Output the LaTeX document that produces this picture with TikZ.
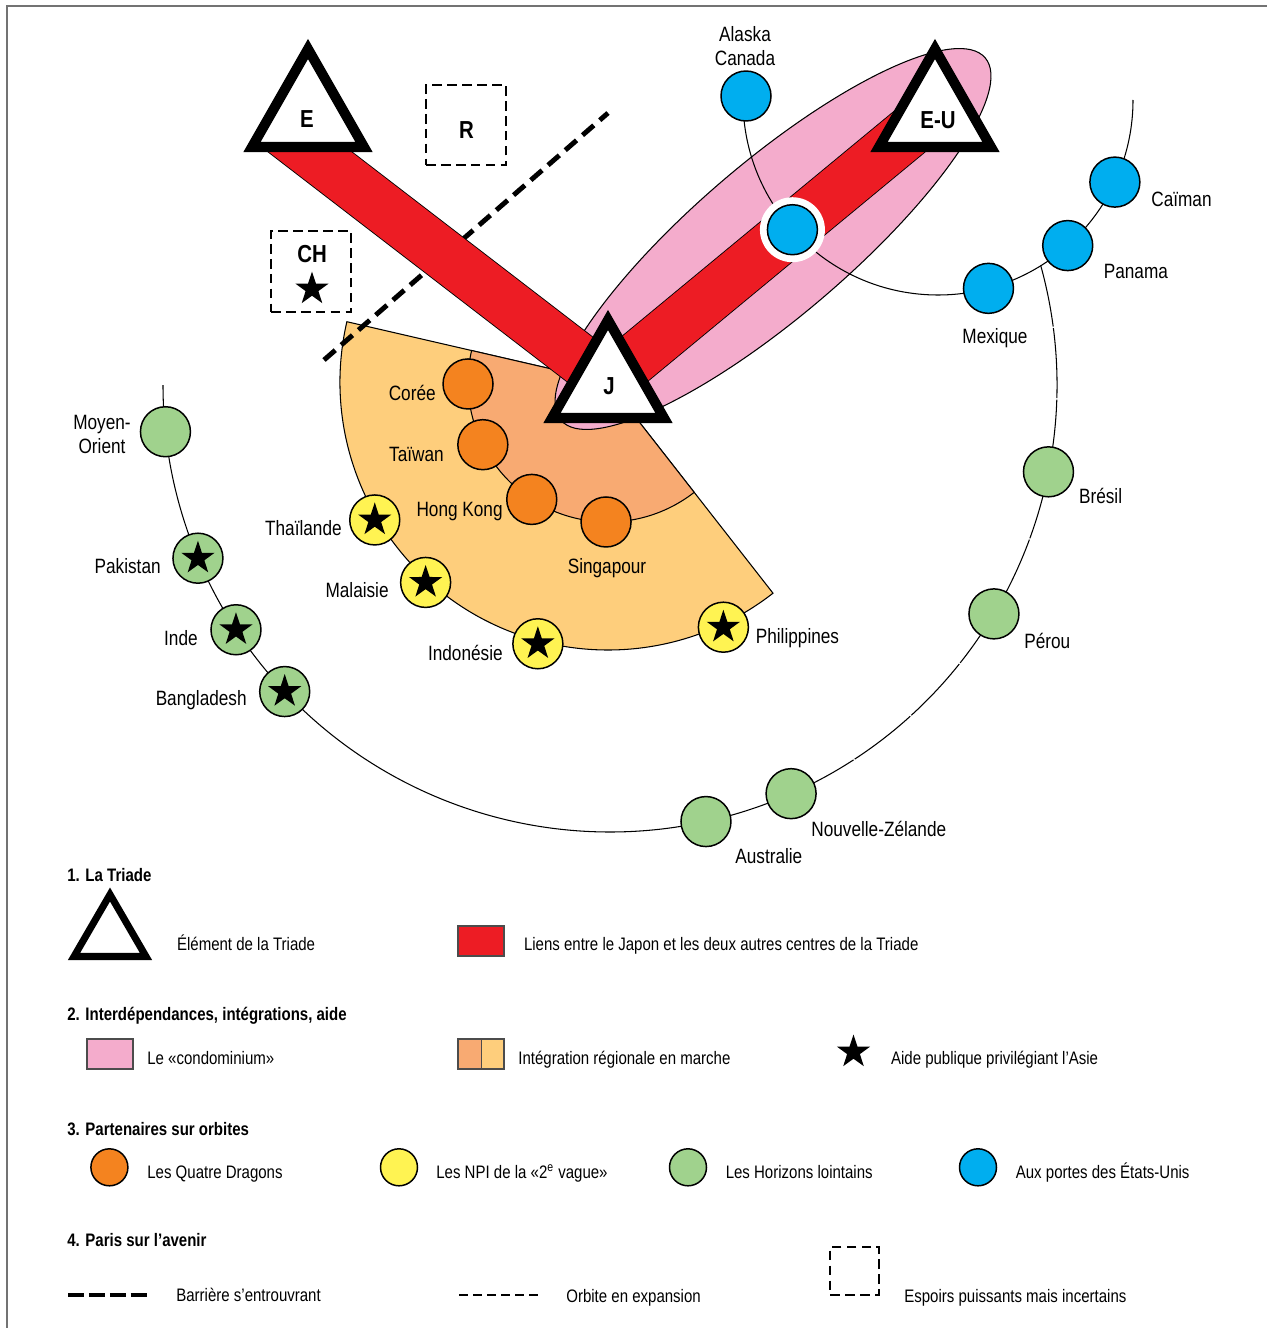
\documentclass[tikz,border=0pt]{standalone}
\usepackage{fontspec}
\setmainfont{Liberation Sans}[FakeStretch=0.83]
\usetikzlibrary{shapes.geometric,positioning}

\definecolor{rouge}{HTML}{ED1C24}
\definecolor{rose}{HTML}{F4ACCC}
\definecolor{saumon}{HTML}{F8AA72}
\definecolor{abricot}{HTML}{FECE7C}
\definecolor{dragon}{HTML}{F4831F}
\definecolor{jaune}{HTML}{FFF352}
\definecolor{vert}{HTML}{A0D28D}
\definecolor{bleu}{HTML}{00AEEF}

\begin{document}
\begin{tikzpicture}[x=0.02cm, y=-0.02cm,
  triade/.style={draw=black, fill=white, line width=5.7pt, line join=miter},
  pays/.style={circle, draw=black, line width=0.85pt, minimum size=1cm, inner sep=0pt},
  quatre/.style={pays, fill=dragon},
  npi/.style={pays, fill=jaune},
  loin/.style={pays, fill=vert},
  porte/.style={pays, fill=bleu},
  etoile/.style={star, star points=5, star point ratio=2.6, fill=black, inner sep=0pt, minimum size=0.7cm},
  orbite/.style={black, line width=0.6pt},
  expansion/.style={orbite, dash pattern=on 40pt off 0.8pt},
  espoir/.style={draw=black, line width=1.4pt, dash pattern=on 5.5pt off 3pt, inner sep=0pt},
  barriere/.style={black, line width=2.8pt, dash pattern=on 8.5pt off 4.5pt},
  lien/.style={rouge, line width=28.6pt},
  lienbord/.style={black, line width=29.6pt},
  lbl/.style={inner sep=0pt, font=\fontsize{11.8}{13.3}\selectfont},
  tlbl/.style={inner sep=0pt, font=\bfseries\fontsize{14}{16}\selectfont},
  leg/.style={inner sep=0pt, anchor=base west, font=\fontsize{10.3}{12}\selectfont},
  titre/.style={leg, font=\bfseries\fontsize{10.3}{12}\selectfont},
  carre/.style={draw=black!70, line width=0.6pt, minimum width=0.92cm, minimum height=0.6cm, inner sep=0pt}
]
  \useasboundingbox (0,0) rectangle (1267,1328);

  % Frame
  \draw[black!55, line width=0.8pt] (7,1328) -- (7,6) -- (1267,6);

  % Centres of the orbits
  \coordinate (jc) at (608,382);
  \coordinate (oc) at (610,385);
  \coordinate (uc) at (938,100);

  % Regional integration (sector around Japan)
  \draw[orbite, fill=abricot] (jc) -- ++(193:268) arc[start angle=193, end angle=52, radius=268] -- cycle;
  \draw[orbite, fill=saumon] (jc) -- ++(193:140) arc[start angle=193, end angle=52, radius=140] -- cycle;

  % Barrier
  \coordinate (b1) at (324,360);
  \coordinate (b2) at (608,113);
  \draw[barriere] (b1) -- (b2);

  % Condominium
  \draw[orbite, fill=rose, rotate around={40.5:(773,239)}] (773,239) ellipse[x radius=279, y radius=77];

  % Links to Japan
  \coordinate (e0) at (275,125);
  \coordinate (u0) at (920,123);
  \coordinate (j0) at (608,381);
  \draw[lienbord] (e0) -- (j0);
  \draw[lien] (e0) -- (j0);
  \draw[lienbord] (u0) -- (j0);
  \draw[lien] (u0) -- (j0);

  % Triad
  \draw[triade] (252,147) -- (364,147) -- (308,49) -- cycle;
  \draw[triade] (879,147) -- (991,147) -- (935,49) -- cycle;
  \draw[triade] (552,418) -- (664,418) -- (608,320) -- cycle;
  \node[tlbl] (eur) at (307,119) {E};
  \node[tlbl] (usa) at (938,120) {E-U};
  \node[tlbl] (jap) at (609,386) {J};

  % Hopes
  \node[espoir, minimum size=1.6cm] (rus) at (466,125) {};
  \node[tlbl] (rusl) at (466.5,130.5) {R};
  \node[espoir, minimum width=1.6cm, minimum height=1.62cm] (chn) at (311,271.5) {};
  \node[tlbl] (chnl) at (312,254.5) {CH};
  \node[etoile] (chns) at (312,289) {};

  % Orbits
  \draw[orbite] (uc) ++(180:195) arc[start angle=180, end angle=0, radius=195];
  \draw[orbite] (oc) ++(180:447) arc[start angle=180, end angle=66, radius=447];
  \draw[expansion] (oc) ++(66:447) arc[start angle=66, end angle=-15.5, radius=447];

  % Four dragons
  \path (jc) ++(179.2:140) node[quatre] (kor) {};
  \path (jc) ++(153.4:140) node[quatre] (tai) {};
  \path (jc) ++(123:140) node[quatre] (hk) {};
  \path (jc) ++(90.8:140) node[quatre] (sgp) {};

  % Second wave
  \path (jc) ++(149.4:271) node[npi] (tha) {};
  \path (jc) ++(132.3:271) node[npi] (mal) {};
  \path (jc) ++(105:271) node[npi] (ido) {};
  \path (jc) ++(64.8:271) node[npi] (phi) {};

  % Far horizons
  \path (oc) ++(174:447) node[loin] (moy) {};
  \path (oc) ++(157.2:447) node[loin] (pak) {};
  \path (oc) ++(146.8:447) node[loin] (ind) {};
  \path (oc) ++(136.7:447) node[loin] (ban) {};
  \path (oc) ++(77.6:447) node[loin] (aus) {};
  \path (oc) ++(66.1:447) node[loin] (nz) {};
  \path (oc) ++(30.8:447) node[loin] (per) {};
  \path (oc) ++(11.2:447) node[loin] (bre) {};

  % At the gates of the US
  \node[porte] (ala) at (746,96) {};
  \path (uc) ++(138.3:195) node[circle, fill=white, minimum size=1.3cm, inner sep=0pt] (anneau) {};
  \path (uc) ++(138.3:195) node[porte] (can) {};
  \path (uc) ++(75:195) node[porte] (mex) {};
  \path (uc) ++(48.3:195) node[porte] (pan) {};
  \path (uc) ++(24.9:195) node[porte] (cai) {};

  % Public aid
  \node[etoile] (thas) at (tha) {};
  \node[etoile] (mals) at (mal) {};
  \node[etoile] (idos) at (ido) {};
  \node[etoile] (phis) at (phi) {};
  \node[etoile] (paks) at (pak) {};
  \node[etoile] (inds) at (ind) {};
  \node[etoile] (bans) at (ban) {};

  % Names
  \node[lbl, anchor=base east] (korl) at (436,400) {Corée};
  \node[lbl, anchor=base east] (tail) at (444,461) {Taïwan};
  \node[lbl, anchor=base east] (hkl) at (503,516.7) {Hong Kong};
  \node[lbl, anchor=base] (sgpl) at (607,573) {Singapour};
  \node[lbl, anchor=base east] (thal) at (342,535) {Thaïlande};
  \node[lbl, anchor=base east] (mall) at (389,597) {Malaisie};
  \node[lbl, anchor=base east] (idol) at (503,660) {Indonésie};
  \node[lbl, anchor=base west] (phil) at (755.5,643) {Philippines};
  \node[lbl, align=center] (moyl) at (102,434.5) {Moyen-\\Orient};
  \node[lbl, anchor=base east] (pakl) at (161,573) {Pakistan};
  \node[lbl, anchor=base east] (indl) at (198,645) {Inde};
  \node[lbl, anchor=base east] (banl) at (247,705) {Bangladesh};
  \node[lbl, align=center] (alal) at (745,46) {Alaska\\Canada};
  \node[lbl, anchor=base west] (cail) at (1151,206.7) {Caïman};
  \node[lbl, anchor=base west] (panl) at (1103.5,278) {Panama};
  \node[lbl, anchor=base] (mexl) at (995,343) {Mexique};
  \node[lbl, anchor=base west] (brel) at (1078.7,503) {Brésil};
  \node[lbl, anchor=base west] (perl) at (1024,648) {Pérou};
  \node[lbl, anchor=base west] (nzl) at (811,836.7) {Nouvelle-Zélande};
  \node[lbl, anchor=base west] (ausl) at (735,863) {Australie};

  % Legend
  \node[titre] (t1) at (67,881.7) {1. La Triade};
  \draw[triade, line width=4pt] (74,956.5) -- (146,956.5) -- (110,894.5) -- cycle;
  \node[leg] (l1) at (176.7,950) {Élément de la Triade};
  \node[carre, fill=rouge] (k1) at (481,941) {};
  \node[leg] (l2) at (523.7,950) {Liens entre le Japon et les deux autres centres de la Triade};

  \node[titre] (t2) at (67,1020) {2. Interdépendances, intégrations, aide};
  \node[carre, fill=rose] (k2) at (110,1054) {};
  \node[leg] (l3) at (147,1064) {Le «condominium»};
  \node[carre, fill=saumon, minimum width=0.47cm] (k3a) at (469.75,1054) {};
  \node[carre, fill=abricot, minimum width=0.45cm] (k3b) at (492.75,1054) {};
  \node[leg] (l4) at (518,1064) {Intégration régionale en marche};
  \node[etoile] (k4) at (853.5,1052) {};
  \node[leg] (l5) at (890.7,1064) {Aide publique privilégiant l'Asie};

  \node[titre] (t3) at (67,1135) {3. Partenaires sur orbites};
  \node[quatre, minimum size=0.74cm] (k5) at (109.4,1167.3) {};
  \node[leg] (l6) at (147,1178) {Les Quatre Dragons};
  \node[npi, minimum size=0.74cm] (k6) at (399,1167.3) {};
  \node[leg] (l7) at (436,1178) {Les NPI de la «2\textsuperscript{e} vague»};
  \node[loin, minimum size=0.74cm] (k7) at (688,1167.3) {};
  \node[leg] (l8) at (725.4,1178) {Les Horizons lointains};
  \node[porte, minimum size=0.74cm] (k8) at (978,1167.3) {};
  \node[leg] (l9) at (1015.5,1178) {Aux portes des États-Unis};

  \node[titre] (t4) at (67,1246) {4. Paris sur l'avenir};
  \coordinate (d1) at (68,1295);
  \coordinate (d2) at (148,1295);
  \draw[barriere, dash pattern=on 9pt off 2.9pt] (d1) -- (d2);
  \node[leg] (l10) at (176,1301.7) {Barrière s'entrouvrant};
  \coordinate (d3) at (459,1295);
  \coordinate (d4) at (539,1295);
  \draw[orbite, dash pattern=on 5pt off 3pt] (d3) -- (d4);
  \node[leg] (l11) at (566,1302) {Orbite en expansion};
  \node[espoir, minimum size=0.97cm] (k9) at (854.5,1271) {};
  \node[leg] (l12) at (904,1302) {Espoirs puissants mais incertains};

\end{tikzpicture}
\end{document}
